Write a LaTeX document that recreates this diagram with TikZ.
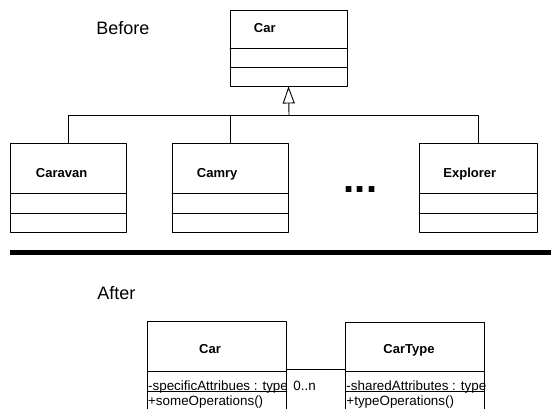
\documentclass[tikz,border=0pt]{standalone}
\usepackage{fontspec}
\setmainfont{Liberation Sans}
\usetikzlibrary{arrows.meta}
\definecolor{qqqqqq}{rgb}{0,0,0}
\tikzset{
  umlbox/.style={draw=qqqqqq,rectangle,inner sep=0pt},
  clsname/.style={font=\fontsize{13}{15}\selectfont\bfseries,inner sep=0pt},
  clstext/.style={font=\fontsize{13.4}{16}\selectfont,inner sep=0pt,anchor=base west},
  stagelbl/.style={font=\fontsize{18}{20}\selectfont,inner sep=0pt,anchor=base west}
}
\begin{document}
\begin{tikzpicture}[line cap=round,line join=round,>={Triangle[open,length=17pt,width=12pt]},x=1pt,y=1pt,line width=0.9pt]
		\clip(0,-408) rectangle (551,0);
		\node[stagelbl] (before) at (96,-34) {Before};
		\node[umlbox,minimum width=117pt,minimum height=76pt] (car) at (288.5,-48) {};
			\draw (230,-48)-- (347,-48);
			\draw (230,-67)-- (347,-67);
			\node[clsname,anchor=base west] (carlbl) at (253.5,-32) {Car};
		\node[umlbox,minimum width=116pt,minimum height=89pt] (caravan) at (68.7,-187.5) {};
			\draw (10.7,-193)-- (126.7,-193);
			\draw (10.7,-213)-- (126.7,-213);
			\node[clsname,anchor=base west] (caravanlbl) at (35.5,-177) {Caravan};
		\node[umlbox,minimum width=116pt,minimum height=89pt] (camry) at (230,-187.5) {};
			\draw (172,-193)-- (288,-193);
			\draw (172,-213)-- (288,-213);
			\node[clsname,anchor=base west] (camrylbl) at (196.5,-177) {Camry};
		\node[umlbox,minimum width=117.7pt,minimum height=89pt] (explorer) at (478.2,-187.5) {};
			\draw (419.3,-193)-- (537,-193);
			\draw (419.3,-213)-- (537,-213);
			\node[clsname,anchor=base west] (explorerlbl) at (443,-177) {Explorer};
		\node[font=\fontsize{40}{40}\selectfont\bfseries,anchor=base,inner sep=0pt] (dots) at (360.5,-192) {...};
		\coordinate (joint) at (289,-115);
		\draw (caravan.north) |- (joint);
		\draw (camry.north) |- (joint);
		\draw (explorer.north) |- (joint);
		\draw[->] (joint)-- (car.south);
		\draw[line width=5pt,line cap=butt] (10,-252.5)-- (551,-252.5);
		\node[stagelbl] (after) at (97,-299) {After};
		\node[umlbox,minimum width=139pt,minimum height=96pt] (newcar) at (217.2,-369) {};
			\draw (147.7,-371.5)-- (286.7,-371.5);
			\draw (147.7,-391)-- (286.7,-391);
			\node[clsname,anchor=base] (newcarlbl) at (210,-353) {Car};
			\node[clstext] (carattr) at (147.7,-390) {-specificAttribues : type};
			\node[clstext] (carops) at (147.7,-405) {+someOperations()};
		\node[umlbox,minimum width=138.3pt,minimum height=94pt] (cartype) at (414.85,-369) {};
			\draw (345.7,-371.5)-- (484,-371.5);
			\draw (345.7,-391)-- (484,-391);
			\node[clsname,anchor=base] (cartypelbl) at (409,-353) {CarType};
			\node[clstext] (typeattr) at (346,-390) {-sharedAttributes : type};
			\node[clstext] (typeops) at (346,-405) {+typeOperations()};
		\draw (newcar)-- (cartype);
		\node[clstext] (mult) at (293,-390) {0..n};
	\end{tikzpicture}
\end{document}
